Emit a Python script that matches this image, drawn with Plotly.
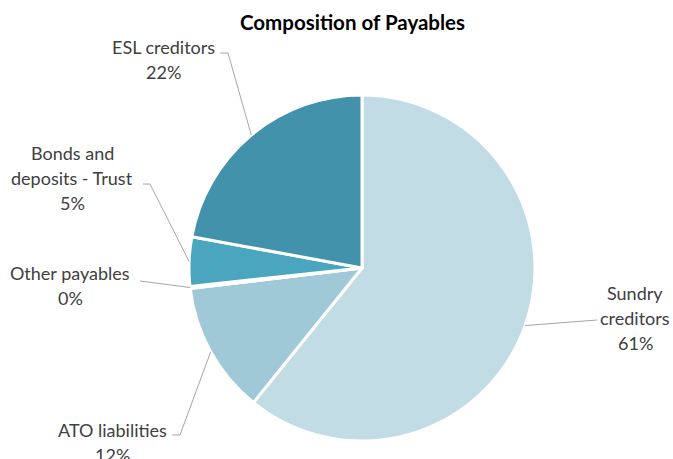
import math
import plotly.graph_objects as go

categories = ["Sundry creditors", "ATO liabilities", "Other payables", "Bonds and deposits - Trust", "ESL creditors"]
values = [60.8, 12.3, 0.2, 4.6, 22.1]
colors = ["#C1DCE5", "#A0C9D8", "#A0C9D8", "#4AA6BF", "#4292AB"]
label_lines = [["Sundry", "creditors"], ["ATO liabilities"], ["Other payables"], ["Bonds and", "deposits - Trust"], ["ESL creditors"]]

W, H = 673, 459
CX, CY, R = 362, 268, 173  # pie centre/radius in pixels

# label layout (pixels): text centre x, first line y, leader elbow point
label_pos = [
    dict(x=635, y=293, ex=597, ey=320, hx=None),
    dict(x=112, y=430, ex=180, ey=435, hx=172),
    dict(x=70, y=273, ex=140, ey=281, hx=None),
    dict(x=72, y=153, ex=150, ey=184, hx=143),
    dict(x=163, y=47, ex=228, ey=53, hx=220),
]
LINE_H = 25

def px(x):
    return x / W

def py(y):
    return 1 - y / H

fig = go.Figure(go.Pie(
    labels=categories, values=values, sort=False, direction="clockwise", rotation=0,
    marker=dict(colors=colors, line=dict(color="white", width=3)),
    textinfo="none", hoverinfo="label+percent", showlegend=False,
    domain=dict(x=[px(CX - R), px(CX + R)], y=[py(CY + R), py(CY - R)]),
))

total = sum(values)
annotations = []
shapes = []
cum = 0.0
for i, v in enumerate(values):
    mid = (cum + v / 2) / total * 2 * math.pi
    cum += v
    sx = CX + R * math.sin(mid)
    sy = CY - R * math.cos(mid)
    lp = label_pos[i]
    lines = label_lines[i] + [f"{round(v / total * 100)}%"]
    for k, t in enumerate(lines):
        annotations.append(dict(x=px(lp["x"]), y=py(lp["y"] + k * LINE_H), xref="paper", yref="paper",
                                text=t, showarrow=False, xanchor="center", yanchor="middle",
                                font=dict(family="Lato", size=18, color="#404040")))
    path = f"M {px(sx)} {py(sy)} L {px(lp['ex'])} {py(lp['ey'])}"
    if lp["hx"] is not None:
        path += f" L {px(lp['hx'])} {py(lp['ey'])}"
    shapes.append(dict(type="path", xref="paper", yref="paper", path=path,
                       line=dict(color="#A6A6A6", width=1)))

annotations.append(dict(x=px(352), y=py(22), xref="paper", yref="paper", text="<b>Composition of Payables</b>",
                        showarrow=False, xanchor="center", yanchor="middle",
                        font=dict(family="Lato", size=20.5, color="#000000")))

fig.update_layout(width=W, height=H, margin=dict(l=0, r=0, t=0, b=0),
                  paper_bgcolor="white", plot_bgcolor="white",
                  annotations=annotations, shapes=shapes)
fig.write_html("out.html", config={"displayModeBar": False},
               post_script="document.body.style.margin='0';")
